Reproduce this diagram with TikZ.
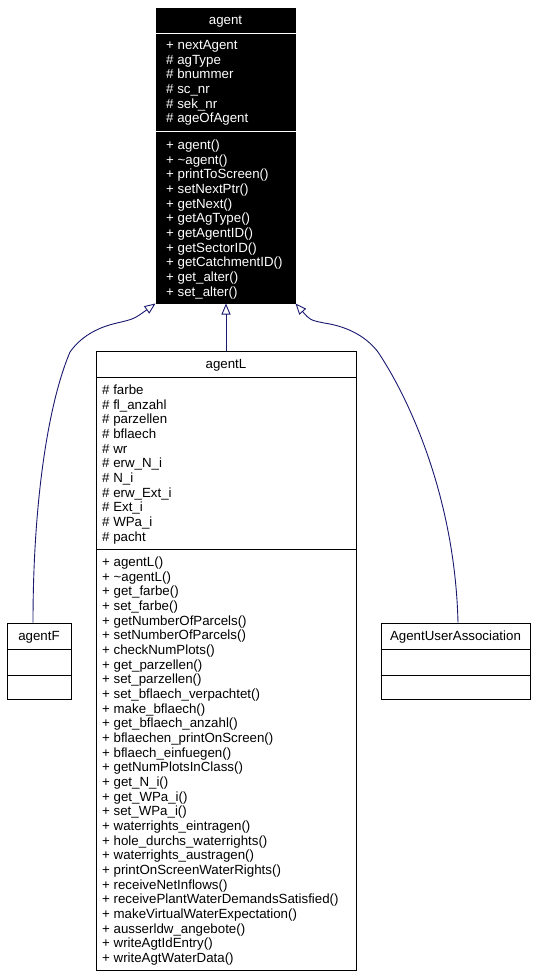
\documentclass[tikz,border=0pt]{standalone}
\usepackage{fontspec}
\setmainfont{Liberation Sans}
\usetikzlibrary{arrows.meta}
\definecolor{edgeblue}{RGB}{25,25,112}
\tikzset{
  cls box/.style={draw=black, line width=1pt, inner sep=0pt},
  member/.style={anchor=base west, inner sep=0pt,
                 font=\fontsize{13.3}{15}\selectfont},
  cls title/.style={anchor=base, inner sep=0pt,
                 font=\fontsize{13.3}{15}\selectfont},
  inherit/.style={draw=edgeblue, line width=0.9pt,
                  -{Triangle[open, length=11pt, width=9pt]}}
}

\begin{document}
\begin{tikzpicture}[x=1pt, y=-1pt]
\useasboundingbox (0,0) rectangle (540,977);

% the base class
\node[cls box, fill=black, minimum width=139pt, minimum height=295pt]
      (agent) at (225.5,155.5) {};
\draw[white, line width=1pt] (agent.west |- 0,33) -- (agent.east |- 0,33)
                             (agent.west |- 0,131) -- (agent.east |- 0,131);
\node[cls title, text=white] (agentT) at (225.5,24.5) {agent};
\foreach \m [count=\i from 0] in {+ nextAgent, \# agType, \# bnummer,
                    \# sc\_nr, \# sek\_nr, \# ageOfAgent}
\node[member, text=white] (agentA\i) at (166,{49.5+14.67*\i}) {\m};
\foreach \m [count=\i from 0] in {+ agent(), + \textasciitilde agent(),
                    + printToScreen(), + setNextPtr(), + getNext(),
                    + getAgType(), + getAgentID(), + getSectorID(),
                    + getCatchmentID(), + get\_alter(), + set\_alter()}
\node[member, text=white] (agentM\i) at (166,{149.5+14.67*\i}) {\m};

% the derived classes
\node[cls box, minimum width=260pt, minimum height=619pt]
      (agentL) at (226,660.5) {};
\draw[line width=1pt] (agentL.west |- 0,377) -- (agentL.east |- 0,377)
                      (agentL.west |- 0,549) -- (agentL.east |- 0,549);
\node[cls title] (agentLT) at (226,368.5) {agentL};
\foreach \m [count=\i from 0] in {\# farbe, \# fl\_anzahl, \# parzellen,
                    \# bflaech, \# wr, \# erw\_N\_i, \# N\_i, \# erw\_Ext\_i,
                    \# Ext\_i, \# WPa\_i, \# pacht}
\node[member] (agentLA\i) at (102,{394.5+14.67*\i}) {\m};
\foreach \m [count=\i from 0] in {+ agentL(), + \textasciitilde agentL(),
                    + get\_farbe(), + set\_farbe(), + getNumberOfParcels(),
                    + setNumberOfParcels(), + checkNumPlots(),
                    + get\_parzellen(), + set\_parzellen(),
                    + set\_bflaech\_verpachtet(), + make\_bflaech(),
                    + get\_bflaech\_anzahl(), + bflaechen\_printOnScreen(),
                    + bflaech\_einfuegen(), + getNumPlotsInClass(),
                    + get\_N\_i(), + get\_WPa\_i(), + set\_WPa\_i(),
                    + waterrights\_eintragen(), + hole\_durchs\_waterrights(),
                    + waterrights\_austragen(), + printOnScreenWaterRights(),
                    + receiveNetInflows(), + receivePlantWaterDemandsSatisfied(),
                    + makeVirtualWaterExpectation(), + ausserldw\_angebote(),
                    + writeAgtIdEntry(), + writeAgtWaterData()}
\node[member] (agentLM\i) at (102,{566.5+14.67*\i}) {\m};

\node[cls box, minimum width=64pt, minimum height=76pt]
      (agentF) at (39,661) {};
\draw[line width=1pt] (agentF.west |- 0,649) -- (agentF.east |- 0,649)
                      (agentF.west |- 0,675) -- (agentF.east |- 0,675);
\node[cls title] (agentFT) at (39,640.5) {agentF};

\node[cls box, minimum width=149pt, minimum height=76pt]
      (aua) at (455.5,661) {};
\draw[line width=1pt] (aua.west |- 0,649) -- (aua.east |- 0,649)
                      (aua.west |- 0,675) -- (aua.east |- 0,675);
\node[cls title] (auaT) at (455.5,640.5) {AgentUserAssociation};

% inheritance
\draw[inherit] (agentL.north) -- (agentL.north |- agent.south);
\draw[inherit] ([xshift=-6pt]agentF.north)
      .. controls +(0,-120) and +(-22,52) .. (70,352)
      .. controls (80,338) and (95,328) .. (117,323)
      .. controls (134,319) .. (agent.south west);
\draw[inherit] ([xshift=2.5pt]aua.north)
      .. controls +(-3,-124) and +(32,48) .. (378,352)
      .. controls (365,335) and (345,326) .. (324,323)
      .. controls (310,320) .. (agent.south east);
\end{tikzpicture}
\end{document}
